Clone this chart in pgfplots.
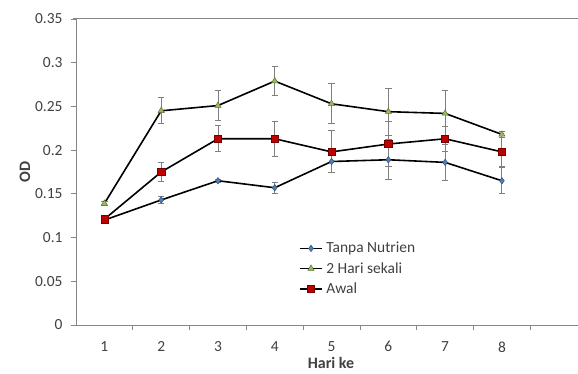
\documentclass[border=0pt]{standalone}
\usepackage{pgfplots}
\pgfplotsset{compat=1.18}
\usepackage{fontspec}
\setmainfont{Carlito}
\definecolor{axgray}{HTML}{868686}
\definecolor{txtgray}{HTML}{404040}
\definecolor{bluem}{HTML}{4F81BD}
\definecolor{greenm}{HTML}{9BBB59}
\definecolor{redm}{HTML}{C00000}
\definecolor{errgray}{HTML}{7F7F7F}
\begin{document}
\begin{tikzpicture}
\begin{axis}[
  scale only axis,
  width=502bp, height=306bp,
  xmin=0.5, xmax=9.34,
  ymin=0, ymax=0.35,
  axis lines*=left,
  axis line style={axgray, line width=1bp},
  xtick={1,...,8},
  major x tick style={draw=none},
  minor xtick={1.5,2.5,...,8.5},
  minor x tick style={axgray, line width=0.8bp},
  ytick={0,0.05,...,0.35},
  yticklabels={0,0.05,0.1,0.15,0.2,0.25,0.3,0.35},
  y tick style={axgray, line width=0.8bp},
  tick align=outside,
  major tick length=5bp,
  minor tick length=5bp,
  tick label style={font=\fontsize{15.5}{17}\selectfont, text=txtgray},
  /pgf/number format/assume math mode=true,
  xlabel={\textbf{Hari ke}},
  ylabel={\textbf{OD}},
  label style={font=\fontsize{16}{18}\selectfont, text=txtgray},
  xlabel style={at={(axis description cs:0.508,0)}, anchor=center, yshift=-38bp},
  ylabel style={yshift=-2bp},
  xticklabel style={yshift=-8bp},
  yticklabel style={xshift=-5bp},
  clip=false,
  legend style={at={(axis description cs:0.444,0.274)}, anchor=north west, draw=none, fill=none,
    font=\fontsize{15.5}{17}\selectfont, text=txtgray, row sep=6bp, inner sep=0pt,
    nodes={inner xsep=3.5pt, inner ysep=1pt}},
  legend cell align=left,
  legend image code/.code={\draw[black, line width=1.8bp, mark repeat=2,mark phase=2] plot coordinates {(0bp,0bp)(11bp,0bp)(22bp,0bp)};},
  every axis plot/.append style={line width=1.6bp},
  error bars/error bar style={errgray, line width=0.9bp},
  error bars/error mark options={rotate=90, mark size=3.2bp, errgray, line width=0.9bp},
]
\addplot[black, mark=diamond*, mark size=3.2bp, mark options={fill=bluem, draw=bluem!60!black, line width=0.5bp},
  error bars/.cd, y dir=both, y explicit]
  coordinates {
  (1,0.120) +- (0,0.003)
  (2,0.143) +- (0,0.004)
  (3,0.165) +- (0,0.002)
  (4,0.157) +- (0,0.006)
  (5,0.187) +- (0,0.012)
  (6,0.189) +- (0,0.023)
  (7,0.186) +- (0,0.021)
  (8,0.165) +- (0,0.015)
  };
\addlegendentry{Tanpa Nutrien}
\addplot[black, mark=triangle*, mark size=3.6bp, mark options={fill=greenm, draw=greenm!60!black, line width=0.5bp},
  error bars/.cd, y dir=both, y explicit]
  coordinates {
  (1,0.139) +- (0,0.002)
  (2,0.245) +- (0,0.015)
  (3,0.251) +- (0,0.017)
  (4,0.279) +- (0,0.017)
  (5,0.253) +- (0,0.023)
  (6,0.244) +- (0,0.027)
  (7,0.242) +- (0,0.026)
  (8,0.218) +- (0,0.003)
  };
\addlegendentry{2 Hari sekali}
\addplot[black, mark=square*, mark size=3.6bp, mark options={fill=redm, draw=redm!60!black, line width=0.5bp},
  error bars/.cd, y dir=both, y explicit]
  coordinates {
  (1,0.121) +- (0,0.004)
  (2,0.175) +- (0,0.011)
  (3,0.213) +- (0,0.015)
  (4,0.213) +- (0,0.020)
  (5,0.198) +- (0,0.024)
  (6,0.207) +- (0,0.026)
  (7,0.213) +- (0,0.014)
  (8,0.198) +- (0,0.017)
  };
\addlegendentry{Awal}
\draw[axgray, line width=1bp] (axis description cs:-0.006,1) -- (axis description cs:1,1);
\end{axis}
\pgfresetboundingbox
\path[use as bounding box] (-76bp,-49bp) rectangle (502bp,325bp);
\end{tikzpicture}
\end{document}
